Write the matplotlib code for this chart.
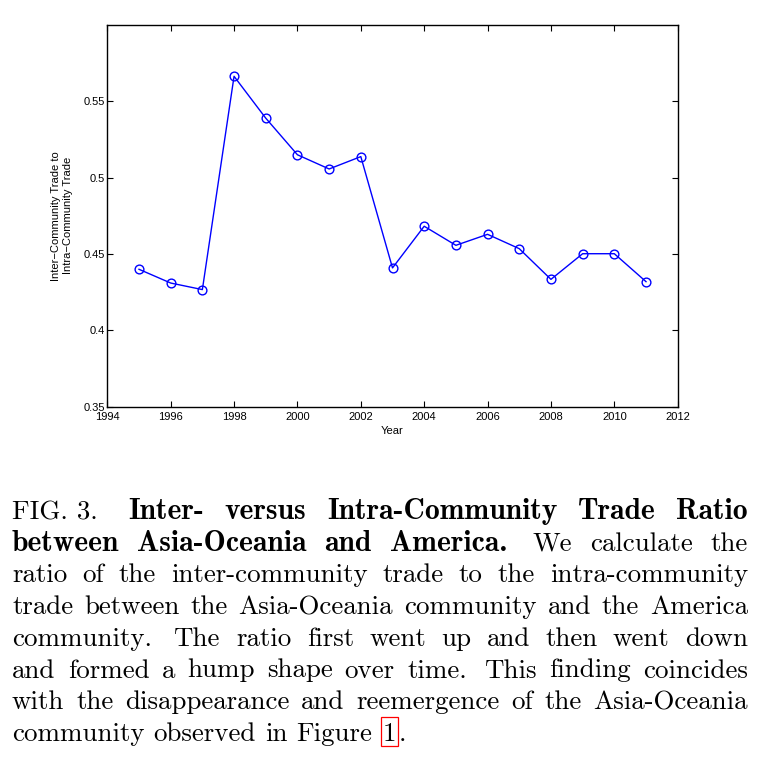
import numpy as np
import matplotlib
matplotlib.use("Agg")
import matplotlib.pyplot as plt
from matplotlib.patches import Rectangle

# values
years = np.arange(1995, 2012)
ratio = [0.4400, 0.4310, 0.4267, 0.5664, 0.5390, 0.5150, 0.5057, 0.5138, 0.4409,
         0.4682, 0.4557, 0.4629, 0.4535, 0.4334, 0.4502, 0.4502, 0.4319]
xticks = np.arange(1994, 2013, 2)
yticks = [0.35, 0.4, 0.45, 0.5, 0.55]
ytick_labels = ["0.35", "0.4", "0.45", "0.5", "0.55"]
xlabel = "Year"
ylabel = "Inter\u2212Community Trade to\nIntra\u2212Community Trade"

caption = [
    [("FIG. 3.", "r"), ("Inter-", "b"), ("versus", "b"), ("Intra-Community", "b"),
     ("Trade", "b"), ("Ratio", "b")],
    [("between", "b"), ("Asia-Oceania", "b"), ("and", "b"), ("America.", "b"),
     ("We", "r"), ("calculate", "r"), ("the", "r")],
    "ratio of the inter-community trade to the intra-community",
    "trade between the Asia-Oceania community and the America",
    "community. The ratio first went up and then went down",
    "and formed a hump shape over time. This finding coincides",
    "with the disappearance and reemergence of the Asia-Oceania",
    "community observed in Figure",
]

W, H = 757, 760
fig = plt.figure(figsize=(W / 100, H / 100), dpi=100)
ax = fig.add_axes([107.3 / W, 1 - 406.7 / H, 570.4 / W, 381.7 / H])

ax.plot(years, ratio, "-o", color=(0, 0, 1), lw=1.0, ms=6.3,
        mfc="none", mec=(0, 0, 1), mew=1.0)
ax.set_xlim(1994, 2012)
ax.set_ylim(0.35, 0.6)
ax.set_xticks(xticks)
ax.set_yticks(yticks)
ax.set_yticklabels(ytick_labels)
tf = dict(family="Liberation Sans", size=8)
for lab in ax.get_xticklabels() + ax.get_yticklabels():
    lab.set_fontfamily("Liberation Sans")
    lab.set_fontsize(8)
ax.tick_params(direction="in", top=True, right=True, length=4, width=0.8)
ax.tick_params(axis="x", pad=3.5)
ax.tick_params(axis="y", pad=1.5)
for s in ax.spines.values():
    s.set_linewidth(1.0)
ax.set_xlabel(xlabel, **tf)
ax.set_ylabel(ylabel, linespacing=1.3, **tf)
ax.xaxis.set_label_coords(0.5, -0.05)
ax.yaxis.set_label_coords(-0.060, 0.5)

# caption, justified like the LaTeX source
fsize = 19.4
bsize = 21.3   # cmb10 is narrower than TeX's cmbx10, so bump it a little
left, right = 12, 748
base0, step = 519, 31.7
space = 0.333 * fsize / 72 * 100
fig.canvas.draw()
rend = fig.canvas.get_renderer()


def place(words, yb, justify):
    objs = []
    for txt, wt in words:
        if wt == "b":
            t = fig.text(0, 1 - yb / H, txt, family="cmb10", size=bsize, va="baseline")
        else:
            t = fig.text(0, 1 - yb / H, txt, family="cmr10", size=fsize, va="baseline")
        objs.append(t)
    widths = [t.get_window_extent(rend).width for t in objs]
    # wider glue after a sentence end, as TeX does
    weights = [1.45 if w[0].endswith(".") else 1.0 for w in words[:-1]]
    if justify:
        unit = (right - left - sum(widths)) / sum(weights)
    else:
        unit = space
    x = left
    for k, (t, w) in enumerate(zip(objs, widths)):
        t.set_x(x / W)
        x += w + (unit * weights[k] if k < len(weights) else unit)
    return x


for i, line in enumerate(caption):
    yb = base0 + i * step
    if isinstance(line, str):
        words = [(w, "r") for w in line.split()]
    else:
        words = line
    last = i == len(caption) - 1
    xend = place(words, yb, not last)

# boxed reference "1" at the end of the caption
yb = base0 + (len(caption) - 1) * step
x1 = xend + 1.5
t1 = fig.text(x1 / W, 1 - yb / H, "1", family="cmr10", size=fsize, va="baseline")
w1 = t1.get_window_extent(rend).width
fig.patches.append(Rectangle(((x1 - 1.5) / W, 1 - (yb + 5) / H),
                             (w1 + 3) / W, 29 / H, transform=fig.transFigure,
                             fill=False, ec="red", lw=0.9))
fig.text((x1 + w1 + 2.5) / W, 1 - yb / H, ".", family="cmr10", size=fsize,
         va="baseline")

fig.savefig("out.png", dpi=100)
